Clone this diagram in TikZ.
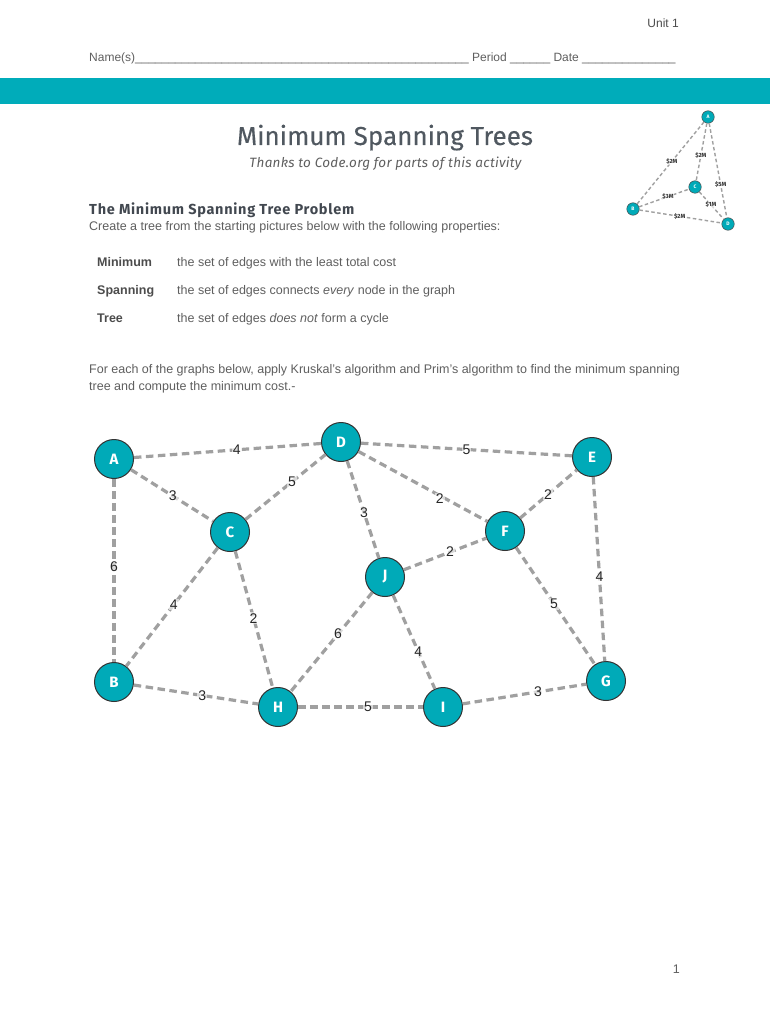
\documentclass[tikz,border=0pt]{standalone}
\usepackage{fontspec}
\setmainfont{Liberation Sans}
\newfontfamily\headfont{Fira Sans}
\newfontfamily\titlefont[FakeBold=0.25]{Fira Sans}
\newfontfamily\subfont[LetterSpace=2]{Fira Sans}
\newfontfamily\headbfont[LetterSpace=5]{Fira Sans}
\definecolor{tealband}{RGB}{0,172,186}
\definecolor{nodeteal}{RGB}{0,170,184}
\definecolor{dashgray}{RGB}{160,160,160}
\definecolor{bodygray}{RGB}{95,95,95}
\definecolor{titlegray}{RGB}{80,88,96}
\definecolor{headslate}{RGB}{66,72,80}
\begin{document}
\begin{tikzpicture}[x=1pt,y=-1pt,
  gnode/.style={circle, fill=nodeteal, draw=black!80, line width=1pt, minimum size=39pt, inner sep=0pt, text=white, font=\headfont\bfseries\fontsize{15}{15}\selectfont},
  gedge/.style={draw=dashgray, line width=3.2pt, dash pattern=on 7.5pt off 4.5pt},
  elab/.style={font=\fontsize{14}{14}\selectfont, text=black!85, inner sep=1pt, fill=white, fill opacity=0.6, text opacity=1},
  snode/.style={circle, fill=nodeteal, draw=black!70, line width=0.5pt, minimum size=12.5pt, inner sep=0pt, text=white, font=\headfont\bfseries\fontsize{5}{5}\selectfont},
  sedge/.style={draw=dashgray, line width=1.4pt, dash pattern=on 3.5pt off 2.5pt},
  slab/.style={font=\headfont\bfseries\fontsize{6}{6}\selectfont, text=black!80, inner sep=0.5pt, fill=white, fill opacity=0.6, text opacity=1},
  body/.style={font=\fontsize{12.5}{12.5}\selectfont, text=bodygray, inner sep=0pt},
  bodyb/.style={font=\bfseries\fontsize{12.5}{12.5}\selectfont, text=black!70, inner sep=0pt}
]
\useasboundingbox (0,0) rectangle (770,1024);
\fill[white] (0,0) rectangle (770,1024);

% header
\node[body, text=black!70, font=\fontsize{12}{12}\selectfont, anchor=base east] (unit) at (679,27.5) {Unit 1};
\node[body, font=\fontsize{12}{12}\selectfont, anchor=base west] (namel) at (89,61.5) {Name(s)\_\_\_\_\_\_\_\_\_\_\_\_\_\_\_\_\_\_\_\_\_\_\_\_\_\_\_\_\_\_\_\_\_\_\_\_\_\_\_\_\_\_\_\_\_\_\_\_\_\_ Period \_\_\_\_\_\_ Date \_\_\_\_\_\_\_\_\_\_\_\_\_\_};
\fill[tealband] (0,78) rectangle (770,104);

% title
\node[font=\titlefont\fontsize{26}{26}\selectfont, text=titlegray, inner sep=0pt, anchor=base] (title) at (385,145) {Minimum Spanning Trees};
\node[font=\subfont\itshape\fontsize{13.5}{13.5}\selectfont, text=bodygray, inner sep=0pt, anchor=base] (sub) at (385.5,167.5) {Thanks to Code.org for parts of this activity};

\node[font=\headbfont\bfseries\fontsize{14.5}{14.5}\selectfont, text=headslate, inner sep=0pt, anchor=base west] (head) at (89,214.5) {The Minimum Spanning Tree Problem};
\node[body, anchor=base west] (create) at (89,230) {Create a tree from the starting pictures below with the following properties:};

\node[bodyb, anchor=base west] (t1) at (97,266.5) {Minimum};
\node[body, anchor=base west] (d1) at (177,266.5) {the set of edges with the least total cost};
\node[bodyb, anchor=base west] (t2) at (97,294.5) {Spanning};
\node[body, anchor=base west] (d2) at (177,294.5) {the set of edges connects \textit{every} node in the graph};
\node[bodyb, anchor=base west] (t3) at (97,322.5) {Tree};
\node[body, anchor=base west] (d3) at (177,322.5) {the set of edges \textit{does not} form a cycle};

\node[body, anchor=base west] (p1) at (89,373) {For each of the graphs below, apply Kruskal's algorithm and Prim's algorithm to find the minimum spanning};
\node[body, anchor=base west] (p2) at (89,390.5) {tree and compute the minimum cost.-};

\node[body, anchor=base east] (pg) at (680,973.5) {1};

% small graph
\node[snode] (sA) at (708,117) {A};
\node[snode] (sC) at (695,187) {C};
\node[snode] (sB) at (633,209) {B};
\node[snode] (sD) at (728,224) {D};
\draw[sedge] (sA) -- node[slab, pos=0.48] {\$2M} (sB);
\draw[sedge] (sA) -- node[slab, pos=0.56] {\$2M} (sC);
\draw[sedge] (sA) -- node[slab, pos=0.65] {\$5M} (sD);
\draw[sedge] (sB) -- node[slab, pos=0.58] {\$3M} (sC);
\draw[sedge] (sC) -- node[slab, pos=0.48] {\$1M} (sD);
\draw[sedge] (sB) -- node[slab, pos=0.49] {\$2M} (sD);

% main graph
\node[gnode] (A) at (114,459) {A};
\node[gnode] (D) at (341,442) {D};
\node[gnode] (E) at (592,457) {E};
\node[gnode] (C) at (230,532) {C};
\node[gnode] (F) at (505,531) {F};
\node[gnode] (J) at (385,577) {J};
\node[gnode] (B) at (114,682) {B};
\node[gnode] (H) at (278,707) {H};
\node[gnode] (I) at (443,707) {I};
\node[gnode] (G) at (606,681) {G};

\draw[gedge] (A) -- node[elab, pos=0.55] {4} (D);
\draw[gedge] (D) -- node[elab, pos=0.50] {5} (E);
\draw[gedge] (A) -- node[elab, pos=0.51] {3} (C);
\draw[gedge] (C) -- node[elab, pos=0.58] {5} (D);
\draw[gedge] (D) -- node[elab, pos=0.53] {3} (J);
\draw[gedge] (D) -- node[elab, pos=0.63, yshift=-3pt] {2} (F);
\draw[gedge] (F) -- node[elab, pos=0.49] {2} (E);
\draw[gedge] (J) -- node[elab, pos=0.56] {2} (F);
\draw[gedge] (A) -- node[elab, pos=0.48] {6} (B);
\draw[gedge] (C) -- node[elab, pos=0.48] {4} (B);
\draw[gedge] (C) -- node[elab, pos=0.49] {2} (H);
\draw[gedge] (J) -- node[elab, pos=0.42] {6} (H);
\draw[gedge] (J) -- node[elab, pos=0.60] {4} (I);
\draw[gedge] (F) -- node[elab, pos=0.48] {5} (G);
\draw[gedge] (E) -- node[elab, pos=0.54] {4} (G);
\draw[gedge] (B) -- node[elab, pos=0.55] {3} (H);
\draw[gedge] (H) -- node[elab, pos=0.56] {5} (I);
\draw[gedge] (I) -- node[elab, pos=0.61] {3} (G);
\end{tikzpicture}
\end{document}
